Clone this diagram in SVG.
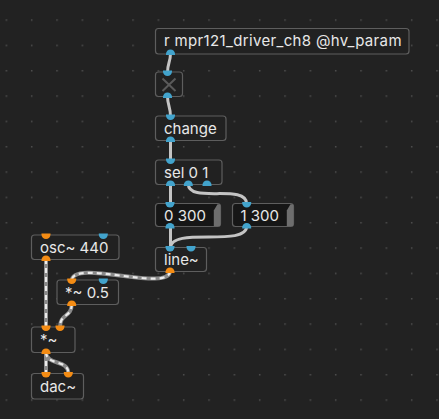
<svg xmlns="http://www.w3.org/2000/svg" width="439" height="419" viewBox="0 0 439 419">
<style>
.box{fill:#212121;stroke:#5e5e5e;stroke-width:1.2}
.msg{fill:#161616;stroke:#5e5e5e;stroke-width:1.2}
.flag{fill:#6e6e6e}
.t{font-family:Inter,"Noto Sans",sans-serif;font-size:15px;fill:#e8e8e8}
.ci{fill:#42a3cc}
.si{fill:#f48c14}
.cc{fill:none;stroke:#c4c4c4;stroke-width:3;stroke-linecap:round}
.sb{fill:none;stroke:#8a8a8a;stroke-width:4;stroke-linecap:round}
.sd{fill:none;stroke:#ececec;stroke-width:2.2;stroke-dasharray:5 4}
</style>
<defs>
<pattern id="grid" patternUnits="userSpaceOnUse" x="5.6" y="19.3" width="25.333" height="25.333">
<rect x="0" y="0" width="1.5" height="1.5" fill="#4e4e4e"/>
</pattern>
</defs>
<rect width="439" height="419" fill="#222222"/>
<rect width="439" height="419" fill="url(#grid)"/>

<g id="connectors">
<path class="cc" d="M170.5,53 C170.5,63 167.5,62 167.5,73"/>
<path class="cc" d="M167.5,96 C167.5,106 170.5,106 170.5,117"/>
<path class="cc" d="M170.5,140 L170.5,161"/>
<path class="cc" d="M170.5,184 L170.5,204"/>
<path class="cc" d="M188.3,184 C188.3,204 246.7,183 246.7,204"/>
<path class="cc" d="M170.5,226 L170.5,248"/>
<path class="cc" d="M246.7,226 C246.7,248 170.5,226 170.5,248"/>
<path class="sb" d="M170,271 C170,293 71.7,258 71.7,281"/>
<path class="sd" d="M170,271 C170,293 71.7,258 71.7,281"/>
<path class="sb" d="M46,259 L46,327"/>
<path class="sd" d="M46,259 L46,327"/>
<path class="sb" d="M71.7,304 C71.7,318 60,313 60,327"/>
<path class="sd" d="M71.7,304 C71.7,318 60,313 60,327"/>
<path class="sb" d="M46,352 L46,373"/>
<path class="sd" d="M46,352 L46,373"/>
<path class="sb" d="M46,352 C46,366 68.3,359 68.3,373"/>
<path class="sd" d="M46,352 C46,366 68.3,359 68.3,373"/>
</g>

<g id="node-r">
<rect class="box" x="155.5" y="28.5" width="253.5" height="25.5" rx="3"/>
<text class="t" x="164" y="46" letter-spacing="0.35">r mpr121_driver_ch8 @hv_param</text>
<path class="ci" d="M166,55 h9 v-1 a4.5 4.5 0 0 0 -9 0 z"/>
</g>

<g id="node-toggle">
<rect class="box" x="155.5" y="72" width="27" height="24.5" rx="3" fill="#1c1c1c"/>
<path d="M162.5,78.5 L175.5,91 M175.5,78.5 L162.5,91" stroke="#5a5a5a" stroke-width="2" fill="none"/>
<path class="ci" d="M163,70.5 h9 v1 a4.5 4.5 0 0 1 -9 0 z"/>
<path class="ci" d="M163,98 h9 v-1 a4.5 4.5 0 0 0 -9 0 z"/>
</g>

<g id="node-change">
<rect class="box" x="155.5" y="116" width="70.5" height="24.5" rx="3"/>
<text class="t" x="164" y="133.5">change</text>
<path class="ci" d="M166,114.5 h9 v1 a4.5 4.5 0 0 1 -9 0 z"/>
<path class="ci" d="M166,142 h9 v-1 a4.5 4.5 0 0 0 -9 0 z"/>
</g>

<g id="node-sel">
<rect class="box" x="155.5" y="160" width="66.5" height="24.5" rx="3"/>
<text class="t" x="164" y="177.5">sel 0 1</text>
<path class="ci" d="M166,158.5 h9 v1 a4.5 4.5 0 0 1 -9 0 z"/>
<path class="ci" d="M166,186 h9 v-1 a4.5 4.5 0 0 0 -9 0 z"/>
<path class="ci" d="M183.8,186 h9 v-1 a4.5 4.5 0 0 0 -9 0 z"/>
<path class="ci" d="M202.5,186 h9 v-1 a4.5 4.5 0 0 0 -9 0 z"/>
</g>

<g id="node-msg0">
<rect class="msg" x="155.5" y="203.5" width="65" height="23" rx="3"/>
<path class="flag" d="M217.5,204.2 L219.3,204.2 Q220.3,204.2 220.3,205.5 V225 Q220.3,226.2 219.2,226.2 H213.8 V210.5 Z"/>
<text class="t" x="164" y="220.5">0 300</text>
<path class="ci" d="M165.5,202 h9 v1 a4.5 4.5 0 0 1 -9 0 z"/>
<path class="ci" d="M165.5,228.5 h9 v-1 a4.5 4.5 0 0 0 -9 0 z"/>
</g>

<g id="node-msg1">
<rect class="msg" x="232.5" y="203.5" width="61" height="23" rx="3"/>
<path class="flag" d="M290.5,204.2 L292.3,204.2 Q293.3,204.2 293.3,205.5 V225 Q293.3,226.2 292.2,226.2 H286.8 V210.5 Z"/>
<text class="t" x="240.5" y="220.5">1 300</text>
<path class="ci" d="M242.2,202 h9 v1 a4.5 4.5 0 0 1 -9 0 z"/>
<path class="ci" d="M242.2,228.5 h9 v-1 a4.5 4.5 0 0 0 -9 0 z"/>
</g>

<g id="node-line">
<rect class="box" x="155.5" y="247.5" width="51" height="24" rx="3"/>
<text class="t" x="164" y="265">line~</text>
<path class="ci" d="M165.5,246 h9 v1 a4.5 4.5 0 0 1 -9 0 z"/>
<path class="ci" d="M186.5,246 h9 v1 a4.5 4.5 0 0 1 -9 0 z"/>
<path class="si" d="M165.5,273 h9 v-1 a4.5 4.5 0 0 0 -9 0 z"/>
</g>

<g id="node-osc">
<rect class="box" x="31.5" y="235" width="87.5" height="24.5" rx="3"/>
<text class="t" x="40" y="252.5">osc~ 440</text>
<path class="si" d="M41.5,233.5 h9 v1 a4.5 4.5 0 0 1 -9 0 z"/>
<path class="ci" d="M98.8,233.5 h9 v1 a4.5 4.5 0 0 1 -9 0 z"/>
<path class="si" d="M41.5,261 h9 v-1 a4.5 4.5 0 0 0 -9 0 z"/>
</g>

<g id="node-mul05">
<rect class="box" x="57" y="280" width="61.5" height="24.5" rx="3"/>
<text class="t" x="65" y="297.5">*~ 0.5</text>
<path class="si" d="M67.2,278.5 h9 v1 a4.5 4.5 0 0 1 -9 0 z"/>
<path class="ci" d="M98.8,278.5 h9 v1 a4.5 4.5 0 0 1 -9 0 z"/>
<path class="si" d="M67.2,306 h9 v-1 a4.5 4.5 0 0 0 -9 0 z"/>
</g>

<g id="node-mul">
<rect class="box" x="31.5" y="327" width="43.5" height="25.5" rx="3"/>
<text class="t" x="40" y="344.5">*~</text>
<path class="si" d="M41.5,325.5 h9 v1 a4.5 4.5 0 0 1 -9 0 z"/>
<path class="si" d="M55.5,325.5 h9 v1 a4.5 4.5 0 0 1 -9 0 z"/>
<path class="si" d="M41.5,354 h9 v-1 a4.5 4.5 0 0 0 -9 0 z"/>
</g>

<g id="node-dac">
<rect class="box" x="31.5" y="373.5" width="52" height="25.5" rx="3"/>
<text class="t" x="40" y="392">dac~</text>
<path class="si" d="M41.5,372 h9 v1 a4.5 4.5 0 0 1 -9 0 z"/>
<path class="si" d="M63.8,372 h9 v1 a4.5 4.5 0 0 1 -9 0 z"/>
</g>
</svg>
